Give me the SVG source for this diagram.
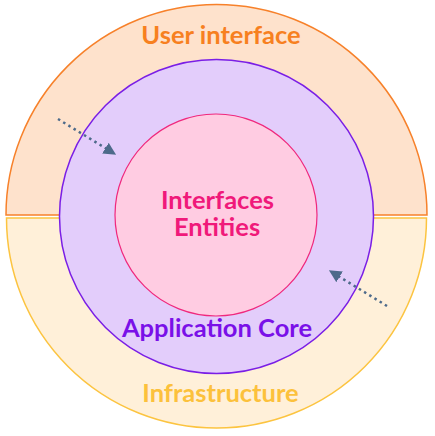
<svg xmlns="http://www.w3.org/2000/svg" width="435" height="436" viewBox="0 0 435 436">
<style>
.t{font-family:Lato,"Liberation Sans",sans-serif;font-weight:bold;font-size:25.5px;text-anchor:middle}
.con{stroke:#4d6a8a;stroke-width:2.5;stroke-dasharray:2.5 3.6;fill:none}
</style>
<defs>
<marker id="ah" viewBox="0 0 10 10" refX="9" refY="5" markerWidth="5" markerHeight="5" orient="auto" markerUnits="strokeWidth">
<path d="M0,0 L10,5 L0,10 z" fill="#4d6a8a"/>
</marker>
</defs>
<rect width="435" height="436" fill="#fff"/>
<g id="ui">
<path d="M6,215 A210.5,210.5 0 0 1 427,215 Z" fill="#fee2cc" stroke="#f7812a" stroke-width="1.5"/>
<text class="t" x="221" y="44" fill="#f7801f">User interface</text>
</g>
<g id="infra">
<path d="M6.5,218 A210,210 0 0 0 426.5,218 Z" fill="#fff0d9" stroke="#fcc440" stroke-width="1.5"/>
<text class="t" x="220.5" y="402" fill="#fcc13c">Infrastructure</text>
</g>
<g id="core">
<circle cx="216.5" cy="216.5" r="157" fill="#e3cdfb" stroke="#7a1ee6" stroke-width="1.5"/>
<text class="t" x="217" y="337" fill="#7a10e8">Application Core</text>
</g>
<g id="entities">
<circle cx="216" cy="215" r="101" fill="#ffcce2" stroke="#f0287d" stroke-width="1.2"/>
<text class="t" x="217.5" y="208.5" fill="#f0197a">Interfaces</text>
<text class="t" x="217" y="236" fill="#f0197a">Entities</text>
</g>
<g id="connectors">
<line class="con" x1="58" y1="119" x2="115" y2="154" marker-end="url(#ah)"/>
<line class="con" x1="387" y1="306" x2="330" y2="271" marker-end="url(#ah)"/>
</g>
</svg>
